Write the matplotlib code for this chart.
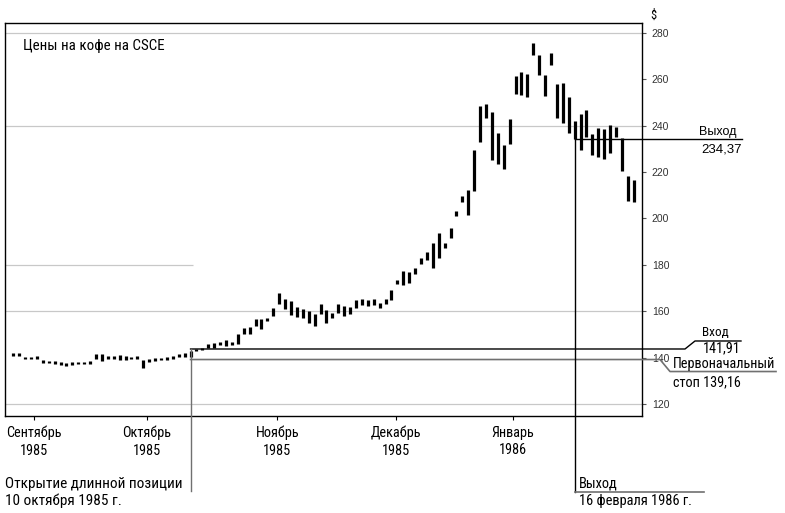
import numpy as np
import matplotlib.pyplot as plt
from matplotlib.lines import Line2D

plt.rcParams['font.family'] = ['Roboto Condensed', 'Liberation Sans Narrow', 'Roboto', 'DejaVu Sans']

# daily high / low, $
highs = [141.8, 141.8, 140.3, 140.3, 140.5, 138.8, 138.7, 138.6, 138.2, 137.8,
         138.0, 138.2, 138.2, 138.4, 141.4, 141.4, 140.8, 140.8, 140.9, 140.5,
         140.4, 140.8, 138.8, 139.5, 139.8, 139.9, 140.2, 140.8, 141.6, 141.8,
         142.9, 143.9, 144.3, 146.0, 146.5, 146.9, 147.6, 146.9, 150.1, 152.7,
         153.4, 156.8, 156.5, 157.0, 161.3, 167.7, 165.2, 164.4, 161.9, 160.9,
         160.1, 159.0, 163.0, 160.4, 159.4, 163.0, 162.3, 161.9, 164.9, 165.2,
         164.9, 165.2, 163.7, 165.2, 169.2, 173.4, 177.4, 176.7, 178.5, 183.1,
         185.6, 189.2, 193.6, 189.6, 195.8, 203.3, 209.5, 212.2, 229.4, 248.5,
         249.5, 245.7, 237.0, 231.5, 242.8, 261.5, 263.3, 262.5, 275.5, 270.5,
         261.9, 271.2, 257.9, 258.3, 252.4, 242.1, 245.2, 246.7, 236.6, 238.8,
         238.5, 240.2, 239.5, 234.9, 218.4, 216.6]
lows = [140.8, 140.8, 139.3, 139.4, 139.3, 137.7, 137.5, 137.4, 137.0, 136.5,
        136.8, 137.1, 137.1, 137.1, 139.5, 138.5, 139.3, 139.4, 138.8, 139.1,
        139.2, 139.2, 135.7, 138.1, 138.5, 138.8, 139.1, 139.5, 140.3, 140.4,
        140.3, 142.9, 143.2, 144.3, 144.0, 145.5, 145.0, 145.5, 145.8, 150.1,
        150.1, 153.7, 152.2, 155.8, 158.0, 163.3, 160.9, 158.3, 157.5, 157.0,
        154.7, 153.7, 158.7, 155.1, 157.0, 159.4, 158.0, 158.7, 161.3, 162.7,
        162.3, 162.7, 161.3, 163.0, 164.9, 171.9, 171.2, 172.3, 175.9, 180.2,
        182.0, 178.6, 182.9, 187.4, 191.5, 201.0, 207.1, 201.3, 211.9, 232.8,
        243.3, 225.2, 223.5, 221.3, 232.0, 253.6, 253.3, 252.4, 270.5, 261.7,
        252.8, 266.2, 243.2, 241.3, 236.7, 234.2, 229.6, 235.2, 227.4, 226.3,
        225.5, 228.4, 235.2, 220.5, 207.6, 206.9]
days = np.arange(len(highs))

month_pos = [3.5, 22.6, 44.7, 64.8, 84.6]
month_labels = ['Сентябрь\n1985', 'Октябрь\n1985', 'Ноябрь\n1985',
                'Декабрь\n1985', 'Январь\n1986']
y_ticks = [120, 140, 160, 180, 200, 220, 240, 260, 280]

entry_day = 30
exit_day = 95
entry_level = 143.7   # line as drawn in the chart
entry_price = '141,91'
stop_price = 139.16
exit_price = 234.37

W, H = 785, 513
fig = plt.figure(figsize=(W / 100, H / 100), dpi=100)
ax = fig.add_axes([5 / W, 1 - 416 / H, 637 / W, 393 / H])
ax.set_xlim(-1.4, 106.4)
ax.set_ylim(114.8, 284.3)

# grid lines (as in the original, only some of them)
for g in [280, 240, 160, 120]:
    ax.axhline(g, color='#c8c8c8', lw=0.9, zorder=0)
ax.hlines(180, -1.4, 30.4, color='#c8c8c8', lw=0.9, zorder=0)

ax.vlines(days, lows, highs, color='black', lw=2.3, zorder=3)

ax.yaxis.tick_right()
ax.set_yticks(y_ticks)
ax.tick_params(axis='y', direction='out', length=3, width=0.8, pad=4,
               labelsize=7.5, labelcolor='#333333', colors='#555555')
for lab in ax.get_yticklabels():
    lab.set_family('Liberation Sans')
ax.set_xticks(month_pos)
ax.set_xticklabels(month_labels, fontsize=10.3, linespacing=1.3)
ax.tick_params(axis='x', direction='out', length=3, width=0.8, pad=4)
for s in ax.spines.values():
    s.set_linewidth(1.0)


def px(x, y):
    return x / W, 1 - y / H


def data_px(x, y):
    dx, dy = ax.transData.transform((x, y))
    return dx, H - dy


def fline(points, color, lw=1.0):
    xs = [p[0] / W for p in points]
    ys = [1 - p[1] / H for p in points]
    fig.add_artist(Line2D(xs, ys, color=color, lw=lw, transform=fig.transFigure))


# entry
ex, ey = data_px(entry_day, entry_level)
fline([(ex, ey), (685, ey), (695, ey - 8), (741, ey - 8)], 'black')
fline([(ex, ey), (ex, 491)], '#707070')
sx, sy = data_px(entry_day, stop_price)
fline([(sx, sy), (660, sy), (670, sy + 12), (776, sy + 12)], '#707070', 1.2)

# exit
xx, xy = data_px(exit_day, exit_price)
fline([(xx, xy), (742, xy)], 'black')
fline([(xx, xy), (xx, 492)], 'black')
fline([(xx, 492), (704, 492)], '#707070', 1.2)

fig.text(*px(23, 50), 'Цены на кофе на CSCE', fontsize=10.8, va='baseline')
fig.text(*px(653, 19), '$', fontsize=9, ha='center', va='baseline')

fig.text(*px(737, 135), 'Выход', fontsize=9, ha='right', va='baseline',
         family='Liberation Sans')
fig.text(*px(742, 152), '234,37', fontsize=9.5, ha='right', va='baseline',
         family='Liberation Sans')
fig.text(*px(729, 336), 'Вход', fontsize=9.5, ha='right', va='baseline')
fig.text(*px(741, 352), entry_price, fontsize=10.3, ha='right', va='baseline')
fig.text(*px(673, 368), 'Первоначальный', fontsize=10.3, va='baseline')
fig.text(*px(673, 386), 'стоп 139,16', fontsize=10.3, va='baseline')

fig.text(*px(5, 488), 'Открытие длинной позиции', fontsize=11, va='baseline')
fig.text(*px(5, 505), '10 октября 1985 г.', fontsize=11, va='baseline')
fig.text(*px(579, 488), 'Выход', fontsize=10.4, va='baseline')
fig.text(*px(579, 505), '16 февраля 1986 г.', fontsize=10.4, va='baseline')

fig.savefig('out.png', dpi=100)
